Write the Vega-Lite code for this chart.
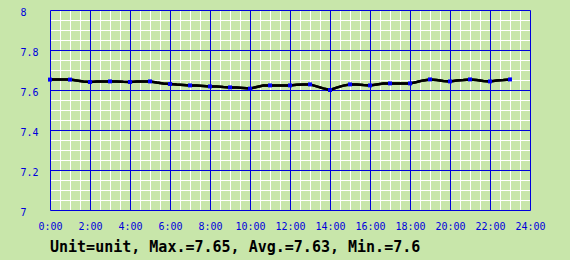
{
  "$schema": "https://vega.github.io/schema/vega-lite/v6.json",
  "width": 480,
  "height": 200,
  "autosize": {"type": "none"},
  "padding": {"left": 50, "top": 10, "right": 40, "bottom": 50},
  "background": "#c8e6aa",
  "config": {
    "view": {"stroke": "#0000dd", "strokeWidth": 1, "fill": "#c8e6aa"},
    "font": "DejaVu Sans Mono"
  },
  "title": {
    "text": "Unit=unit, Max.=7.65, Avg.=7.63, Min.=7.6",
    "orient": "bottom",
    "anchor": "start",
    "frame": "group",
    "font": "DejaVu Sans Mono",
    "fontSize": 15,
    "fontWeight": "bold",
    "color": "#000000",
    "offset": 9
  },
  "data": {
    "values": [
      {"m": 0, "v": 7.652}, {"m": 20, "v": 7.652}, {"m": 40, "v": 7.652}, {"m": 60, "v": 7.652},
      {"m": 80, "v": 7.648}, {"m": 100, "v": 7.643}, {"m": 120, "v": 7.64},
      {"m": 140, "v": 7.643}, {"m": 160, "v": 7.643}, {"m": 180, "v": 7.643},
      {"m": 200, "v": 7.643}, {"m": 220, "v": 7.641}, {"m": 240, "v": 7.64},
      {"m": 260, "v": 7.643}, {"m": 280, "v": 7.643}, {"m": 300, "v": 7.643},
      {"m": 320, "v": 7.637}, {"m": 340, "v": 7.633}, {"m": 360, "v": 7.63},
      {"m": 380, "v": 7.627}, {"m": 400, "v": 7.625}, {"m": 420, "v": 7.623},
      {"m": 440, "v": 7.622}, {"m": 460, "v": 7.62}, {"m": 480, "v": 7.618},
      {"m": 500, "v": 7.618}, {"m": 520, "v": 7.615}, {"m": 540, "v": 7.613},
      {"m": 560, "v": 7.613}, {"m": 580, "v": 7.61}, {"m": 600, "v": 7.607},
      {"m": 620, "v": 7.615}, {"m": 640, "v": 7.622}, {"m": 660, "v": 7.623},
      {"m": 680, "v": 7.623}, {"m": 700, "v": 7.623}, {"m": 720, "v": 7.623},
      {"m": 740, "v": 7.626}, {"m": 760, "v": 7.628}, {"m": 780, "v": 7.628},
      {"m": 800, "v": 7.618}, {"m": 820, "v": 7.608}, {"m": 840, "v": 7.6},
      {"m": 860, "v": 7.612}, {"m": 880, "v": 7.622}, {"m": 900, "v": 7.628},
      {"m": 920, "v": 7.628}, {"m": 940, "v": 7.625}, {"m": 960, "v": 7.623},
      {"m": 980, "v": 7.628}, {"m": 1000, "v": 7.632}, {"m": 1020, "v": 7.633},
      {"m": 1040, "v": 7.633}, {"m": 1060, "v": 7.633}, {"m": 1080, "v": 7.633},
      {"m": 1100, "v": 7.64}, {"m": 1120, "v": 7.648}, {"m": 1140, "v": 7.653},
      {"m": 1160, "v": 7.65}, {"m": 1180, "v": 7.645}, {"m": 1200, "v": 7.643},
      {"m": 1220, "v": 7.648}, {"m": 1240, "v": 7.65}, {"m": 1260, "v": 7.653},
      {"m": 1280, "v": 7.65}, {"m": 1300, "v": 7.645}, {"m": 1320, "v": 7.643},
      {"m": 1340, "v": 7.648}, {"m": 1360, "v": 7.65}, {"m": 1380, "v": 7.653}
    ]
  },
  "resolve": {"axis": {"x": "independent", "y": "independent"}},
  "layer": [
    {
      "mark": {"type": "line", "color": "#000000", "strokeWidth": 2.5},
      "encoding": {
        "x": {
          "field": "m", "type": "quantitative",
          "scale": {"domain": [0, 1440], "nice": false, "zero": false},
          "axis": {
            "orient": "bottom", "title": null, "labels": false, "ticks": false, "domain": false,
            "grid": true, "gridColor": "#ffffff", "gridOpacity": 1, "gridWidth": 1,
            "values": [0,30,60,90,120,150,180,210,240,270,300,330,360,390,420,450,480,510,540,570,600,630,660,690,720,750,780,810,840,870,900,930,960,990,1020,1050,1080,1110,1140,1170,1200,1230,1260,1290,1320,1350,1380,1410,1440]
          }
        },
        "y": {
          "field": "v", "type": "quantitative",
          "scale": {"domain": [7, 8], "nice": false, "zero": false},
          "axis": {
            "orient": "left", "title": null, "labels": false, "ticks": false, "domain": false,
            "grid": true, "gridColor": "#ffffff", "gridOpacity": 1, "gridWidth": 1,
            "values": [7,7.05,7.1,7.15,7.2,7.25,7.3,7.35,7.4,7.45,7.5,7.55,7.6,7.65,7.7,7.75,7.8,7.85,7.9,7.95,8]
          }
        }
      }
    },
    {
      "mark": {"type": "line", "color": "#000000", "strokeWidth": 2.5},
      "encoding": {
        "x": {
          "field": "m", "type": "quantitative",
          "scale": {"domain": [0, 1440], "nice": false, "zero": false},
          "axis": {
            "orient": "bottom", "title": null, "ticks": false, "tickSize": 0, "domain": false,
            "grid": true, "gridColor": "#0000dd", "gridOpacity": 1, "gridWidth": 1,
            "zindex": 1,
            "values": [0,120,240,360,480,600,720,840,960,1080,1200,1320,1440],
            "labelExpr": "(datum.value / 60) + ':00'",
            "labelFlush": false, "labelOverlap": false,
            "labelColor": "#0000dd", "labelFont": "DejaVu Sans Mono", "labelFontSize": 10,
            "labelPadding": 11
          }
        },
        "y": {
          "field": "v", "type": "quantitative",
          "scale": {"domain": [7, 8], "nice": false, "zero": false},
          "axis": {
            "orient": "left", "title": null, "ticks": false, "tickSize": 0, "domain": false,
            "grid": true, "gridColor": "#0000dd", "gridOpacity": 1, "gridWidth": 1,
            "values": [7, 7.2, 7.4, 7.6, 7.8, 8],
            "format": "~g",
            "labelAlign": "left", "labelBaseline": "middle", "labelOffset": 2,
            "labelColor": "#0000dd", "labelFont": "DejaVu Sans Mono", "labelFontSize": 10,
            "labelPadding": 30, "labelFlush": false, "labelOverlap": false
          }
        }
      }
    },
    {
      "transform": [{"filter": "datum.m % 60 == 0"}],
      "mark": {"type": "square", "color": "#0000ff", "filled": true, "opacity": 1, "size": 16},
      "encoding": {
        "x": {"field": "m", "type": "quantitative", "scale": {"domain": [0, 1440], "nice": false, "zero": false}, "axis": null},
        "y": {"field": "v", "type": "quantitative", "scale": {"domain": [7, 8], "nice": false, "zero": false}, "axis": null}
      }
    }
  ]
}
